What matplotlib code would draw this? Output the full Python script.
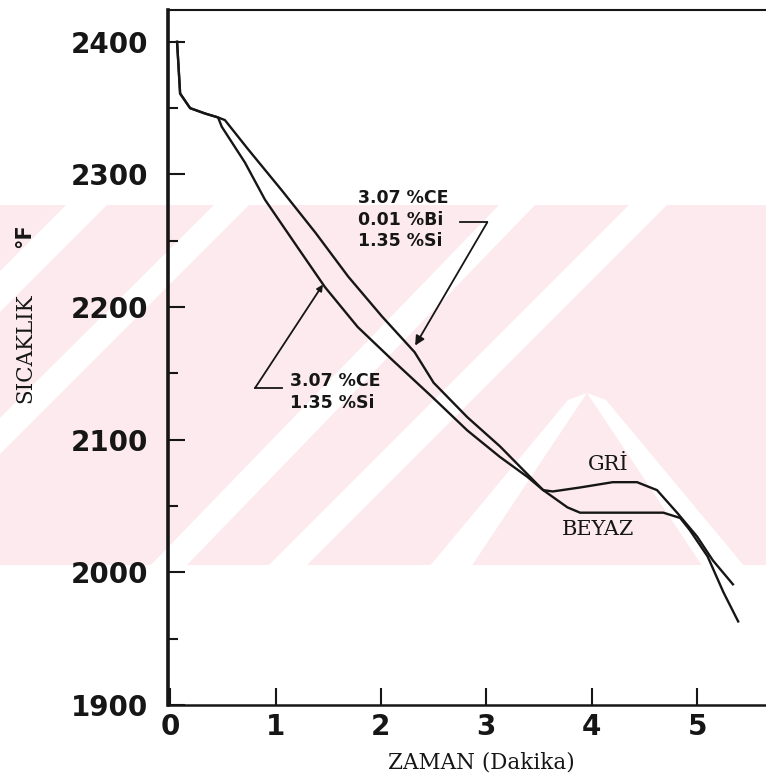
import matplotlib
matplotlib.use("Agg")
import matplotlib.pyplot as plt
from matplotlib.patches import Polygon, Rectangle
from matplotlib.ticker import MultipleLocator
import numpy as np

# cooling curves (time in minutes, temperature in F)
beyaz_t = [0.066, 0.095, 0.19, 0.33, 0.455, 0.52, 0.59, 0.74, 1.06, 1.38, 1.69, 2.01,
           2.32, 2.50, 2.82, 3.13, 3.44, 3.54, 3.77, 3.89, 4.20, 4.68, 4.84, 4.93,
           5.10, 5.25, 5.39]
beyaz_T = [2400, 2361, 2350, 2346, 2343, 2341, 2334, 2319, 2288, 2256, 2223, 2193,
           2166, 2143, 2117, 2095, 2070, 2062, 2049, 2045, 2045, 2045, 2041, 2032,
           2012, 1985, 1963]
gri_t = [0.066, 0.095, 0.19, 0.33, 0.455, 0.49, 0.71, 0.90, 1.21, 1.47, 1.78, 2.11,
         2.49, 2.82, 3.13, 3.39, 3.54, 3.63, 3.89, 4.20, 4.43, 4.62, 4.81, 5.00,
         5.15, 5.34]
gri_T = [2400, 2361, 2350, 2346, 2343, 2336, 2309, 2281, 2245, 2215, 2185, 2160,
         2132, 2107, 2087, 2072, 2062, 2061, 2064, 2068, 2068, 2062, 2045, 2027,
         2009, 1991]

x_ticks = [0, 1, 2, 3, 4, 5]
y_ticks = [1900, 2000, 2100, 2200, 2300, 2400]

W, H = 766, 783
ink = '#161616'
pink = '#fdeaee'

fig = plt.figure(figsize=(W / 100, H / 100), dpi=100)


def px(x, y):
    return (x / W, 1 - y / H)


# faint watermark band behind the chart
band = Rectangle(px(0, 565), 1, 360 / H, transform=fig.transFigure,
                 facecolor=pink, edgecolor='none', zorder=-3)
fig.add_artist(band)
stripes = [
    [(67, 204), (108, 204), (-255, 567), (-296, 567)],
    [(215, 204), (250, 204), (-113, 567), (-150, 567)],
    [(500, 204), (536, 204), (185, 567), (149, 567)],
    [(630, 204), (668, 204), (305, 567), (267, 567)],
    [(587, 393), (606, 400), (745, 567), (703, 567)],
    [(587, 393), (568, 400), (429, 567), (471, 567)],
]
for s in stripes:
    p = Polygon([px(*q) for q in s], closed=True, transform=fig.transFigure,
                facecolor='white', edgecolor='none', zorder=-2)
    fig.add_artist(p)
    p.set_clip_path(band)

ax = fig.add_axes([168 / W, (H - 705) / H, (W - 168) / W, 695 / H])
ax.patch.set_alpha(0)

ax.plot(beyaz_t, beyaz_T, color=ink, lw=1.7)
ax.plot(gri_t, gri_T, color=ink, lw=1.7)

ax.set_xlim(-0.02, 5.654)
ax.set_ylim(1900, 2424)
ax.set_xticks(x_ticks)
ax.set_yticks(y_ticks)
ax.yaxis.set_minor_locator(MultipleLocator(50))
ax.tick_params(which='both', direction='in', color=ink, width=1.5)
ax.tick_params(axis='y', which='major', length=12, pad=14)
ax.tick_params(axis='y', which='minor', length=7)
ax.tick_params(axis='x', which='major', length=12, pad=6)
for lab in ax.get_xticklabels() + ax.get_yticklabels():
    lab.set_fontsize(20)
    lab.set_fontweight('bold')
    lab.set_color(ink)

ax.spines['right'].set_visible(False)
ax.spines['left'].set_linewidth(2.6)
ax.spines['bottom'].set_linewidth(1.8)
ax.spines['top'].set_linewidth(1.5)
for sp in ax.spines.values():
    sp.set_color(ink)

# labels on the curves
lab_font = dict(fontsize=12.5, fontweight='bold', color=ink, linespacing=1.25)
ax.text(1.78, 2266, '3.07 %CE\n0.01 %Bi\n1.35 %Si', ha='left', va='center', **lab_font)
ax.plot([2.75, 3.01], [2264, 2264], color=ink, lw=1.3)
ax.annotate('', xy=(2.325, 2171), xytext=(3.01, 2264),
            arrowprops=dict(arrowstyle='-|>', color=ink, lw=1.3, mutation_scale=14,
                            shrinkA=0, shrinkB=0))

ax.text(1.14, 2136, '3.07 %CE\n1.35 %Si', ha='left', va='center', **lab_font)
ax.plot([1.063, 0.806], [2139, 2139], color=ink, lw=1.3)
ax.annotate('', xy=(1.45, 2217), xytext=(0.806, 2139),
            arrowprops=dict(arrowstyle='-|>', color=ink, lw=1.3, mutation_scale=9,
                            shrinkA=0, shrinkB=0))

serif = ['DejaVu Serif']
ax.text(4.156, 2081, 'GRİ', ha='center', va='center', fontsize=15,
        family=serif, color=ink)
ax.text(4.06, 2032, 'BEYAZ', ha='center', va='center', fontsize=15,
        family=serif, color=ink)

fig.text(*px(481, 763), 'ZAMAN (Dakika)', ha='center', va='center', fontsize=15.5,
         family=serif, color=ink)
fig.text(*px(25, 348), 'SICAKLIK', ha='center', va='center', rotation=90,
         fontsize=15.5, family=serif, color=ink)
fig.text(*px(24, 236), '°F', ha='center', va='center', rotation=90,
         fontsize=15, fontweight='bold', color=ink)

fig.savefig('out.png', dpi=100)
